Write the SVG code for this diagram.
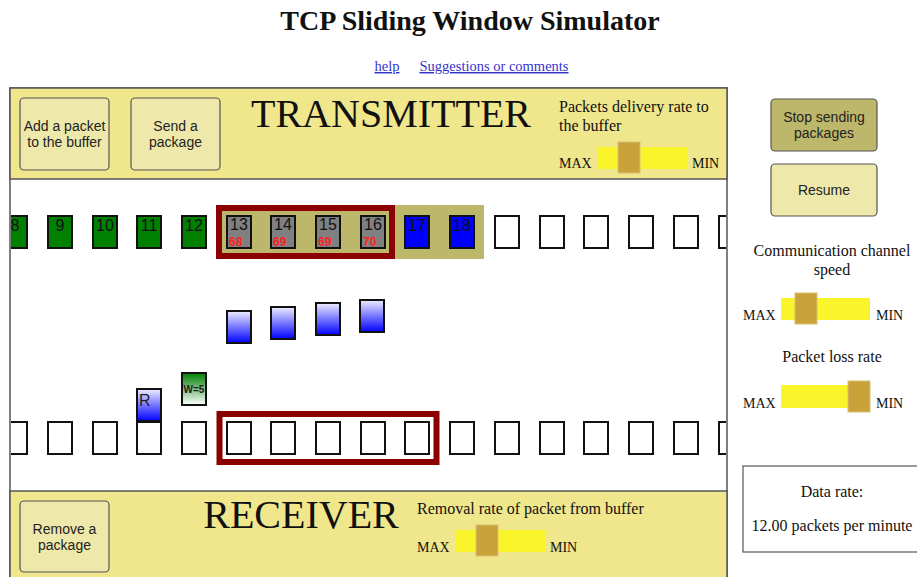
<svg xmlns="http://www.w3.org/2000/svg" width="917" height="577" viewBox="0 0 917 577">
<style>
.serif{font-family:"Liberation Serif","Times New Roman",serif;fill:#111}
.sans{font-family:"Liberation Sans",Arial,sans-serif;fill:#222}
.btn{fill:#eee8aa;stroke:#555;stroke-width:1.2}
.btn2{fill:#bdb76b;stroke:#555;stroke-width:1.2}
.bar{fill:#f9f52a}
.thumb{fill:#c9a23a;stroke:#d8c070;stroke-width:1}
.box{stroke:#111;stroke-width:2}
.empty{fill:#fff}
.green{fill:#008000}
.gray{fill:#808080}
.blue{fill:#0000ff}
.num{font-family:"Liberation Sans",Arial,sans-serif;font-size:16px;fill:#111;text-anchor:middle}
.seq{font-family:"Liberation Sans",Arial,sans-serif;font-size:12px;font-weight:bold;fill:#ff2020}
.win{fill:none;stroke:#8b0000;stroke-width:6}
.panel{fill:#f0e68c;stroke:#555;stroke-width:1.5}
</style>
<defs>
<linearGradient id="gBlue" x1="0" y1="0" x2="0" y2="1"><stop offset="0" stop-color="#eeeeff"/><stop offset="1" stop-color="#0000ff"/></linearGradient>
<linearGradient id="gGreen" x1="0" y1="0" x2="0" y2="1"><stop offset="0" stop-color="#008000"/><stop offset="1" stop-color="#ffffff"/></linearGradient>
<clipPath id="clipMain"><rect x="11" y="179" width="715" height="312"/></clipPath>
</defs>
<rect width="917" height="577" fill="#fff"/>
<g id="title">
<text class="serif" x="470" y="30" font-size="28" font-weight="bold" text-anchor="middle">TCP Sliding Window Simulator</text>
<text x="387" y="71" font-size="14.5" font-family="Liberation Serif,serif" fill="#3333cc" text-anchor="middle" text-decoration="underline">help</text>
<text x="494" y="71" font-size="14.5" font-family="Liberation Serif,serif" fill="#3333cc" text-anchor="middle" text-decoration="underline">Suggestions or comments</text>
</g>
<g id="frame">
<rect x="10" y="88" width="717" height="500" fill="#fff" stroke="#555" stroke-width="1.5"/>
</g>
<g id="transmitter">
<rect class="panel" x="10" y="88" width="717" height="91"/>
<g id="btn-add"><rect class="btn" x="20" y="98" width="89" height="72" rx="4"/>
<text class="sans" x="64.5" y="131" font-size="14" text-anchor="middle">Add a packet</text>
<text class="sans" x="64.5" y="147" font-size="14" text-anchor="middle">to the buffer</text></g>
<g id="btn-send"><rect class="btn" x="131" y="98" width="89" height="72" rx="4"/>
<text class="sans" x="175.5" y="131" font-size="14" text-anchor="middle">Send a</text>
<text class="sans" x="175.5" y="147" font-size="14" text-anchor="middle">package</text></g>
<text class="serif" x="391" y="127" font-size="40" text-anchor="middle">TRANSMITTER</text>
<text class="serif" x="559" y="112" font-size="16">Packets delivery rate to</text>
<text class="serif" x="559" y="131" font-size="16">the buffer</text>
<text class="serif" x="559" y="168" font-size="14">MAX</text>
<rect class="bar" x="598" y="147" width="89" height="22"/>
<rect class="thumb" x="618" y="142" width="22" height="31"/>
<text class="serif" x="692" y="168" font-size="14">MIN</text>
</g>
<g id="receiver">
<rect class="panel" x="10" y="491" width="717" height="100"/>
<g id="btn-remove"><rect class="btn" x="20" y="501" width="89" height="71" rx="4"/>
<text class="sans" x="64.5" y="534" font-size="14" text-anchor="middle">Remove a</text>
<text class="sans" x="64.5" y="550" font-size="14" text-anchor="middle">package</text></g>
<text class="serif" x="301" y="528" font-size="40" text-anchor="middle">RECEIVER</text>
<text class="serif" x="417" y="514" font-size="16">Removal rate of packet from buffer</text>
<text class="serif" x="417" y="552" font-size="14">MAX</text>
<rect class="bar" x="456" y="530" width="89" height="22"/>
<rect class="thumb" x="476" y="525" width="22" height="31"/>
<text class="serif" x="550" y="552" font-size="14">MIN</text>
</g>
<g id="sender-buffer" clip-path="url(#clipMain)">
<rect x="216" y="205" width="268" height="54" fill="#bdb76b"/>
<rect class="win" x="219" y="208" width="173" height="48"/>
<g id="p8"><rect class="box green" x="3" y="216" width="24" height="32"/><text class="num" x="15" y="231">8</text></g>
<g id="p9"><rect class="box green" x="48" y="216" width="24" height="32"/><text class="num" x="60" y="231">9</text></g>
<g id="p10"><rect class="box green" x="93" y="216" width="24" height="32"/><text class="num" x="105" y="231">10</text></g>
<g id="p11"><rect class="box green" x="137" y="216" width="24" height="32"/><text class="num" x="149" y="231">11</text></g>
<g id="p12"><rect class="box green" x="182" y="216" width="24" height="32"/><text class="num" x="194" y="231">12</text></g>
<g id="p13"><rect class="box gray" x="227" y="216" width="24" height="32"/><text class="num" x="239" y="230">13</text><text class="seq" x="229" y="246">68</text></g>
<g id="p14"><rect class="box gray" x="271" y="216" width="24" height="32"/><text class="num" x="283" y="230">14</text><text class="seq" x="273" y="246">69</text></g>
<g id="p15"><rect class="box gray" x="316" y="216" width="24" height="32"/><text class="num" x="328" y="230">15</text><text class="seq" x="318" y="246">69</text></g>
<g id="p16"><rect class="box gray" x="361" y="216" width="24" height="32"/><text class="num" x="373" y="230">16</text><text class="seq" x="363" y="246">70</text></g>
<g id="p17"><rect class="box blue" x="405" y="216" width="24" height="32"/><text class="num" x="417" y="231">17</text></g>
<g id="p18"><rect class="box blue" x="450" y="216" width="24" height="32"/><text class="num" x="462" y="231">18</text></g>
<g id="s19"><rect class="box empty" x="495" y="216" width="24" height="32"/></g>
<g id="s20"><rect class="box empty" x="540" y="216" width="24" height="32"/></g>
<g id="s21"><rect class="box empty" x="584" y="216" width="24" height="32"/></g>
<g id="s22"><rect class="box empty" x="629" y="216" width="24" height="32"/></g>
<g id="s23"><rect class="box empty" x="674" y="216" width="24" height="32"/></g>
<g id="s24"><rect class="box empty" x="719" y="216" width="24" height="32"/></g>
</g>
<g id="receiver-buffer" clip-path="url(#clipMain)">
<rect class="win" x="219.5" y="414" width="217" height="48"/>
<rect class="box empty" x="3" y="422" width="24" height="32"/>
<rect class="box empty" x="48" y="422" width="24" height="32"/>
<rect class="box empty" x="93" y="422" width="24" height="32"/>
<rect class="box empty" x="137" y="422" width="24" height="32"/>
<rect class="box empty" x="182" y="422" width="24" height="32"/>
<rect class="box empty" x="227" y="422" width="24" height="32"/>
<rect class="box empty" x="271" y="422" width="24" height="32"/>
<rect class="box empty" x="316" y="422" width="24" height="32"/>
<rect class="box empty" x="361" y="422" width="24" height="32"/>
<rect class="box empty" x="405" y="422" width="24" height="32"/>
<rect class="box empty" x="450" y="422" width="24" height="32"/>
<rect class="box empty" x="495" y="422" width="24" height="32"/>
<rect class="box empty" x="540" y="422" width="24" height="32"/>
<rect class="box empty" x="584" y="422" width="24" height="32"/>
<rect class="box empty" x="629" y="422" width="24" height="32"/>
<rect class="box empty" x="674" y="422" width="24" height="32"/>
<rect class="box empty" x="719" y="422" width="24" height="32"/>
</g>
<g id="in-flight">
<rect class="box" fill="url(#gBlue)" x="227" y="311" width="24" height="32"/>
<rect class="box" fill="url(#gBlue)" x="271" y="307" width="24" height="32"/>
<rect class="box" fill="url(#gBlue)" x="316" y="303" width="24" height="32"/>
<rect class="box" fill="url(#gBlue)" x="360" y="300" width="24" height="32"/>
<g id="ack"><rect class="box" fill="url(#gGreen)" x="182" y="373" width="24" height="32"/>
<text class="sans" x="194" y="393" font-size="10" font-weight="bold" text-anchor="middle" fill="#222">W=5</text></g>
<g id="r-packet"><rect class="box" fill="url(#gBlue)" x="137" y="389" width="24" height="32"/>
<text class="sans" x="139" y="406" font-size="16">R</text></g>
</g>
<g id="controls">
<g id="btn-stop"><rect class="btn2" x="771" y="99" width="106" height="52" rx="4"/>
<text class="sans" x="824" y="122" font-size="14" text-anchor="middle">Stop sending</text>
<text class="sans" x="824" y="138" font-size="14" text-anchor="middle">packages</text></g>
<g id="btn-resume"><rect class="btn" x="771" y="164" width="106" height="52" rx="4"/>
<text class="sans" x="824" y="195" font-size="14" text-anchor="middle">Resume</text></g>
<text class="serif" x="832" y="256" font-size="16" text-anchor="middle">Communication channel</text>
<text class="serif" x="832" y="275" font-size="16" text-anchor="middle">speed</text>
<text class="serif" x="743" y="320" font-size="14">MAX</text>
<rect class="bar" x="781" y="298" width="89" height="22"/>
<rect class="thumb" x="795" y="293" width="22" height="31"/>
<text class="serif" x="876" y="320" font-size="14">MIN</text>
<text class="serif" x="832" y="362" font-size="16" text-anchor="middle">Packet loss rate</text>
<text class="serif" x="743" y="408" font-size="14">MAX</text>
<rect class="bar" x="781" y="385" width="89" height="23"/>
<rect class="thumb" x="848" y="381" width="22" height="31"/>
<text class="serif" x="876" y="408" font-size="14">MIN</text>
<g id="data-rate"><rect x="743" y="466" width="190" height="86" fill="#fff" stroke="#555" stroke-width="1.2"/>
<text class="serif" x="832" y="497" font-size="16" text-anchor="middle">Data rate:</text>
<text class="serif" x="832" y="531" font-size="16" text-anchor="middle">12.00 packets per minute</text></g>
</g>
</svg>
